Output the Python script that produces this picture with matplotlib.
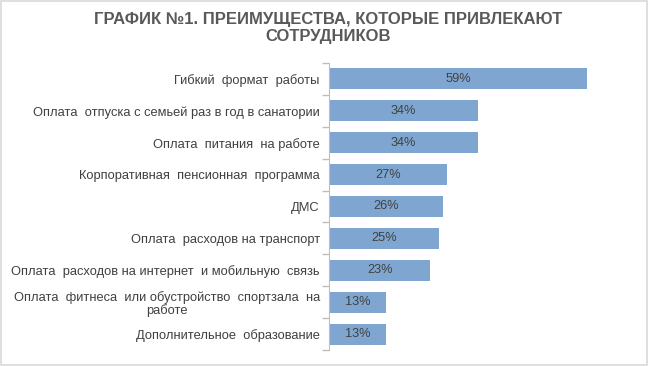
import matplotlib.pyplot as plt
import numpy as np
from matplotlib.patches import Rectangle

plt.rcParams['font.family'] = ['Liberation Sans', 'DejaVu Sans']

# Данные графика
categories = [
    "Гибкий  формат  работы",
    "Оплата  отпуска с семьей раз в год в санатории",
    "Оплата  питания  на работе",
    "Корпоративная  пенсионная  программа",
    "ДМС",
    "Оплата  расходов на транспорт",
    "Оплата  расходов на интернет  и мобильную  связь",
    "Оплата  фитнеса  или обустройство  спортзала  на\nработе",
    "Дополнительное  образование",
]
values = [59, 34, 34, 27, 26, 25, 23, 13, 13]
value_labels = ["59%", "34%", "34%", "27%", "26%", "25%", "23%", "13%", "13%"]

bar_color = '#7FA6D1'
text_color = '#404040'
axis_color = '#BFBFBF'

fig = plt.figure(figsize=(6.49, 3.66), dpi=100)
ax = fig.add_axes([0.5077, 0.0437, 0.4423, 0.7842])

y = np.arange(len(categories))
ax.barh(y, values, height=0.66, color=bar_color)
ax.set_ylim(len(categories) - 0.5, -0.5)
ax.set_xlim(0, 65.8)

for yi, v, lab in zip(y, values, value_labels):
    ax.text(v / 2, yi, lab, ha='center', va='center', fontsize=9.2, color=text_color)

ax.set_yticks(y)
ax.set_yticklabels(categories, fontsize=9.3, color=text_color, multialignment='center',
                   linespacing=1.0)
ax.tick_params(axis='y', which='major', length=0, pad=7)
ax.set_yticks(np.arange(-0.5, len(categories)), minor=True)
ax.tick_params(axis='y', which='minor', length=5, color=axis_color, width=1)
ax.set_xticks([])

for s in ['top', 'right', 'bottom']:
    ax.spines[s].set_visible(False)
ax.spines['left'].set_color(axis_color)

fig.text(0.505, 0.967, "ГРАФИК №1. ПРЕИМУЩЕСТВА, КОТОРЫЕ ПРИВЛЕКАЮТ\nСОТРУДНИКОВ",
         ha='center', va='top', fontsize=12, fontweight='bold', color='#595959',
         linespacing=1.2)

# рамка вокруг рисунка
fig.patches.append(Rectangle((0.002, 0.003), 0.995, 0.993, transform=fig.transFigure,
                             fill=False, edgecolor='#D9D9D9', linewidth=1.2))

fig.savefig('out.png', dpi=100)
